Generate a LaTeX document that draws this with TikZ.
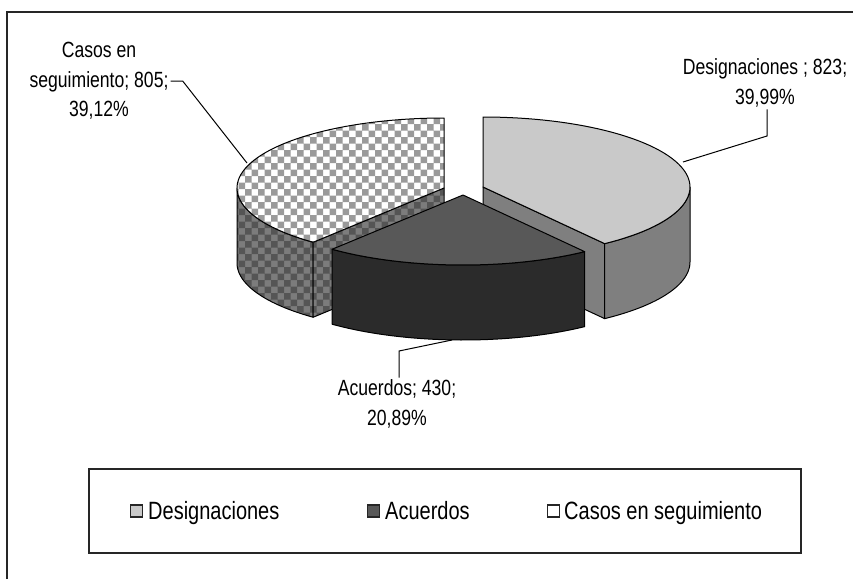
\documentclass[tikz,border=0pt]{standalone}
\usepackage{fontspec}
\newfontfamily\lblfont{Liberation Sans}[FakeStretch=0.8]
\usetikzlibrary{calc}
\definecolor{dtop}{HTML}{C9C9C9}
\definecolor{dside}{HTML}{7F7F7F}
\definecolor{atop}{HTML}{585858}
\definecolor{aside}{HTML}{2B2B2B}
\definecolor{ctopB}{HTML}{9A9A9A}
\definecolor{csideA}{HTML}{7C7C7C}
\definecolor{csideB}{HTML}{555555}
\newcommand\checkgrid[5]{%
  \fill[#5] \foreach \i in {0,...,#3}{\foreach \j in {0,...,#4}{
    ({#1+2*\i*6.5},{#2+2*\j*6.5}) rectangle ++(6.5,6.5)
    ({#1+(2*\i+1)*6.5},{#2+(2*\j+1)*6.5}) rectangle ++(6.5,6.5)}};}
\def\EA{207}
\def\EB{70}
\def\EH{75}
\begin{document}
\begin{tikzpicture}[x=1pt,y=-1pt,
  edge/.style={draw=black,line width=1pt,line join=round},
  leader/.style={draw=black,line width=1pt},
  lbl/.style={font=\lblfont\fontsize{22}{29.5}\selectfont,align=center,inner sep=2pt},
  legtext/.style={font=\lblfont\fontsize{25}{30}\selectfont,inner sep=0pt,anchor=base west},
  legkey/.style={draw=black!85,line width=1.5pt,minimum size=12pt,inner sep=0pt}]
\useasboundingbox (0,0) rectangle (853,579);
\fill[white] (0,0) rectangle (853,579);
% outer frame (cropped at right and bottom)
\draw[line width=2pt,black!85] (7,579) -- (7,12) -- (853,12);

% ---------------- Casos en seguimiento (left) ----------------
% outer side 180..230.8
\begin{scope}
\clip plot[domain=180:230.8,samples=40] ({444+\EA*cos(\x)},{188-\EB*sin(\x)})
  -- plot[domain=-230.8:-180,samples=40] ({444+\EA*cos(-\x)},{188+\EH-\EB*sin(-\x)}) -- cycle;
\fill[csideA] (230,170) rectangle (460,340);
\checkgrid{232}{176}{18}{13}{csideB}
\end{scope}
\path[edge] plot[domain=180:230.8,samples=40] ({444+\EA*cos(\x)},{188-\EB*sin(\x)})
  -- plot[domain=-230.8:-180,samples=40] ({444+\EA*cos(-\x)},{188+\EH-\EB*sin(-\x)}) -- cycle;
% radial face at 230.8
\begin{scope}
\clip (444,188) -- ({444+\EA*cos(230.8)},{188-\EB*sin(230.8)}) -- ++(0,\EH) -- (444,{188+\EH}) -- cycle;
\fill[csideA] (230,170) rectangle (460,340);
\checkgrid{232}{176}{18}{13}{csideB}
\end{scope}
\path[edge] (444,188) -- ({444+\EA*cos(230.8)},{188-\EB*sin(230.8)}) -- ++(0,\EH) -- (444,{188+\EH}) -- cycle;
% top face
\begin{scope}
\clip (444,188) -- plot[domain=90:230.8,samples=60] ({444+\EA*cos(\x)},{188-\EB*sin(\x)}) -- cycle;
\fill[white] (230,105) rectangle (460,250);
\checkgrid{232}{111}{18}{11}{ctopB}
\end{scope}
\path[edge] (444,188) -- plot[domain=90:230.8,samples=60] ({444+\EA*cos(\x)},{188-\EB*sin(\x)}) -- cycle;

% ---------------- Designaciones (right) ----------------
\path[edge,fill=dside] (483,187) -- ({483+\EA*cos(-54)},{187-\EB*sin(-54)}) -- ++(0,\EH) -- (483,{187+\EH}) -- cycle;
\path[edge,fill=dside] plot[domain=-54:0,samples=30] ({483+\EA*cos(\x)},{187-\EB*sin(\x)})
  -- plot[domain=0:54,samples=30] ({483+\EA*cos(-\x)},{187+\EH-\EB*sin(-\x)}) -- cycle;
\path[edge,fill=dtop] (483,187) -- plot[domain=-54:90,samples=60] ({483+\EA*cos(\x)},{187-\EB*sin(\x)}) -- cycle;

% ---------------- Acuerdos (front) ----------------
\path[edge,fill=aside] plot[domain=230.8:306,samples=40] ({463+\EA*cos(\x)},{195-\EB*sin(\x)})
  -- plot[domain=-306:-230.8,samples=40] ({463+\EA*cos(-\x)},{195+\EH-\EB*sin(-\x)}) -- cycle;
\path[edge,fill=atop] (463,195) -- plot[domain=230.8:306,samples=40] ({463+\EA*cos(\x)},{195-\EB*sin(\x)}) -- cycle;

% ---------------- data labels and leaders ----------------
\node[lbl] (lblC) at (99,81) {Casos en\\seguimiento; 805;\\39,12\%};
\node[lbl] (lblD) at (765,83) {Designaciones ; 823;\\39,99\%};
\node[lbl] (lblA) at (397,404) {Acuerdos; 430;\\20,89\%};
\coordinate (rimC) at (247,163);
\coordinate (rimD) at (683,162);
\coordinate (rimA) at (452,340);
\coordinate (kC) at ($(lblC.east)+(12,0)$);
\coordinate (kD) at (767,136);
\coordinate (kA) at (399,351);
\draw[leader] (lblC.east) -- (kC) -- (rimC);
\draw[leader] (lblD.south -| kD) -- (kD) -- (rimD);
\draw[leader] (rimA) -- (kA) -- (kA |- lblA.north);

% ---------------- legend ----------------
\draw[line width=2pt,black!85] (89,469) rectangle (801,553);
\node[legkey,fill=dtop] (kD1) at (136.5,511) {};
\node[legtext] (tD1) at (148,519) {Designaciones};
\node[legkey,fill=atop] (kA1) at (373.5,511) {};
\node[legtext] (tA1) at (385,519) {Acuerdos};
\node[legkey,fill=white] (kC1) at (553.5,511) {};
\node[legtext] (tC1) at (564,519) {Casos en seguimiento};
\end{tikzpicture}
\end{document}
